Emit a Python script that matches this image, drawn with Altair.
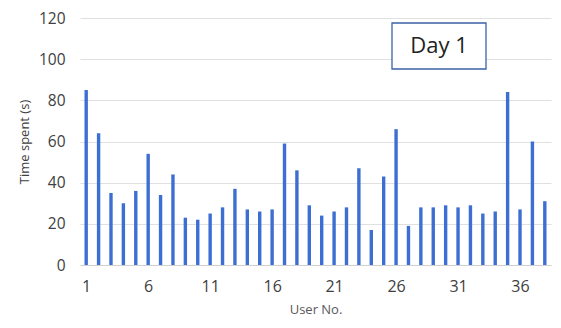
import altair as alt
import pandas as pd

users = list(range(1, 39))
times = [85, 64, 35, 30, 36, 54, 34, 44, 23, 22, 25, 28, 37, 27, 26, 27, 59, 46, 29,
         24, 26, 28, 47, 17, 43, 66, 19, 28, 28, 29, 28, 29, 25, 26, 84, 27, 60, 31]
x_ticks = [1, 6, 11, 16, 21, 26, 31, 36]
y_ticks = [0, 20, 40, 60, 80, 100, 120]
label_text = ["Day 1"]

df = pd.DataFrame({"user": users, "time": times})

FONT = "Open Sans"
W, H = 471, 247

bars = alt.Chart(df).mark_bar(color="#3d6fd3", size=3.4).encode(
    x=alt.X("user:Q", scale=alt.Scale(domain=[0.5, 38.5], nice=False, zero=False, padding=0),
            axis=alt.Axis(values=x_ticks, title="User No.", grid=False, ticks=False,
                          domain=True, domainColor="#d0d0d0", labelFontSize=16,
                          labelColor="#404040", labelPadding=13, titleFontSize=13,
                          titleFontWeight="normal", titleColor="#595959", titlePadding=9,
                          labelFont=FONT, titleFont=FONT)),
    y=alt.Y("time:Q", scale=alt.Scale(domain=[0, 120], nice=False),
            axis=alt.Axis(values=y_ticks, title="Time spent (s)", grid=True,
                          gridColor="#e0e0e0", ticks=False, domain=False,
                          labelFontSize=15.5, labelColor="#404040", labelPadding=15,
                          titleFontSize=13, titleFontWeight="normal", titleColor="#404040",
                          titlePadding=7, labelFont=FONT, titleFont=FONT)),
)

box = alt.Chart(pd.DataFrame({"t": label_text})).mark_rect(
    fill="white", stroke="#3b62a8", strokeWidth=1.3
).encode(x=alt.value(312), x2=alt.value(406), y=alt.value(5), y2=alt.value(51))

txt = alt.Chart(pd.DataFrame({"t": label_text})).mark_text(
    fontSize=22, font=FONT, color="#222222", align="center", baseline="middle"
).encode(text="t:N", x=alt.value(359), y=alt.value(28))

chart = alt.layer(bars, box, txt).properties(
    width=W, height=H, background="white",
    autosize=alt.AutoSizeParams(type="none"),
    padding={"left": 72, "top": 10, "right": 2, "bottom": 55}
).configure_view(stroke=None)

chart.save("out.html", embed_options={"renderer": "svg", "actions": False})
